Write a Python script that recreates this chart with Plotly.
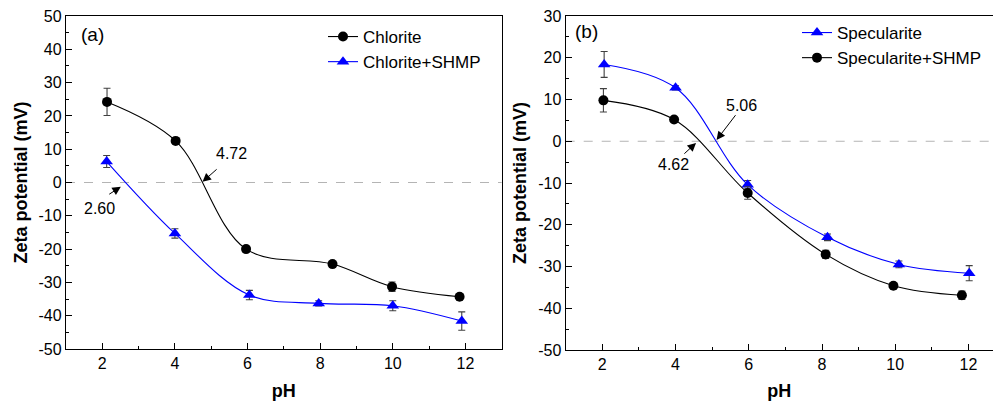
import plotly.graph_objects as go

# ---- data ----
chl_ph = [2.13, 4.02, 5.96, 8.34, 9.98, 11.84]
chl_zeta = [24.2, 12.5, -20.0, -24.5, -31.3, -34.3]
chl_err = [4.1, 0.6, 0.7, 0.6, 1.4, 0.8]

chls_ph = [2.12, 4.00, 6.05, 7.96, 10.00, 11.90]
chls_zeta = [6.3, -15.3, -33.8, -36.3, -37.0, -41.6]
chls_err = [1.8, 1.4, 1.4, 0.8, 1.5, 2.75]

spe_ph = [2.05, 4.00, 5.97, 8.15, 10.10, 12.02]
spe_zeta = [18.4, 12.8, -10.4, -23.0, -29.5, -31.6]
spe_err = [3.1, 0.5, 1.0, 0.8, 0.8, 1.8]

spes_ph = [2.03, 3.96, 5.97, 8.10, 9.95, 11.82]
spes_zeta = [9.8, 5.2, -12.4, -27.1, -34.6, -36.9]
spes_err = [2.8, 0.5, 1.5, 1.0, 0.5, 1.0]

ya_ticks = [-50, -40, -30, -20, -10, 0, 10, 20, 30, 40, 50]
yb_ticks = [-50, -40, -30, -20, -10, 0, 10, 20, 30]
ya_labels = [str(v) for v in ya_ticks]
yb_labels = [str(v) for v in yb_ticks]

iep_labels = ["4.72", "2.60", "5.06", "4.62"]

FONT = "Liberation Sans, Arial, sans-serif"
BLUE = "#0000ff"
ERRC = "#404040"

fig = go.Figure()

def add(x, y, e, name, color, symbol, xa, ya, legend):
    fig.add_trace(go.Scatter(
        x=x, y=y, name=name, mode="lines+markers",
        line=dict(color=color, width=1.1, shape="spline", smoothing=1.0),
        marker=dict(color=color, symbol=symbol, size=10 if symbol == "circle" else 11),
        error_y=dict(type="data", array=e, visible=True, color=ERRC, thickness=1.1, width=3.5),
        xaxis=xa, yaxis=ya, legend=legend,
    ))

add(chl_ph, chl_zeta, chl_err, "Chlorite", "black", "circle", "x", "y", "legend")
add(chls_ph, chls_zeta, chls_err, "Chlorite+SHMP", BLUE, "triangle-up", "x", "y", "legend")
add(spe_ph, spe_zeta, spe_err, "Specularite", BLUE, "triangle-up", "x2", "y2", "legend2")
add(spes_ph, spes_zeta, spes_err, "Specularite+SHMP", "black", "circle", "x2", "y2", "legend2")

axis_common = dict(
    showline=True, linecolor="black", linewidth=1.3,
    ticks="inside", ticklen=6, tickwidth=1.2, tickcolor="black",
    showgrid=False, zeroline=False, automargin=False,
    tickfont=dict(family=FONT, size=16, color="black"),
)

xcommon = dict(axis_common, range=[1, 13], dtick=2, tick0=2,
               minor=dict(dtick=1, ticks="inside", ticklen=3, tickwidth=1.2, tickcolor="black"),
               title=dict(text="<b>pH</b>", font=dict(family=FONT, size=18, color="black"), standoff=14))

ycommon = dict(axis_common, tickmode="array",
               minor=dict(dtick=5, tick0=0, ticks="inside", ticklen=3, tickwidth=1.2, tickcolor="black"),
               title=dict(text="<b>Zeta potential (mV)</b>", font=dict(family=FONT, size=18, color="black"), standoff=6))

fig.update_layout(
    width=993, height=401,
    margin=dict(l=0, r=0, t=0, b=0, autoexpand=False),
    paper_bgcolor="white", plot_bgcolor="white",
    showlegend=True,
    xaxis=dict(xcommon, domain=[66 / 993, 501.7 / 993], anchor="y", mirror=True),
    yaxis=dict(ycommon, domain=[52 / 401, 385 / 401], range=[-50, 50], anchor="x", mirror=True,
               tickvals=ya_ticks, ticktext=ya_labels),
    xaxis2=dict(xcommon, domain=[565.7 / 993, 1.0], anchor="y2", mirror=True, range=[1, 12.67]),
    yaxis2=dict(ycommon, domain=[51 / 401, 385 / 401], range=[-50, 30], anchor="x2", mirror=False,
                tickvals=yb_ticks, ticktext=yb_labels),
    legend=dict(x=323 / 993, y=1 - 19 / 401, xanchor="left", yanchor="top",
                bgcolor="rgba(0,0,0,0)", font=dict(family=FONT, size=17, color="black")),
    legend2=dict(x=797 / 993, y=1 - 15 / 401, xanchor="left", yanchor="top",
                 bgcolor="rgba(0,0,0,0)", font=dict(family=FONT, size=17, color="black")),
)

# zero reference lines
for xr, yr in (("x domain", "y"), ("x2 domain", "y2")):
    fig.add_shape(type="line", xref=xr, yref=yr, x0=0, x1=1, y0=0, y1=0,
                  line=dict(color="#b4b4b4", width=1, dash="dash"), layer="below")

# panel labels
fig.add_annotation(text="(a)", xref="x domain", yref="y domain", x=0.03, y=0.945,
                   xanchor="left", yanchor="middle", showarrow=False,
                   font=dict(family=FONT, size=19, color="black"))
fig.add_annotation(text="(b)", xref="x2 domain", yref="y2 domain", x=0.018, y=0.955,
                   xanchor="left", yanchor="middle", showarrow=False,
                   font=dict(family=FONT, size=19, color="black"))

# IEP labels and arrows
labels = [
    # text, text x, text y, head x, head y, tail x, tail y, axes
    (iep_labels[0], 5.57, 8.6, 4.76, 0.2, 5.19, 4.35, "x", "y"),
    (iep_labels[1], 1.92, -7.7, 2.51, -1.3, 2.15, -3.8, "x", "y"),
    (iep_labels[2], 5.81, 8.6, 5.12, 0.3, 5.67, 6.6, "x2", "y2"),
    (iep_labels[3], 3.94, -5.6, 4.56, -0.4, 4.20, -3.3, "x2", "y2"),
]
for t, tx, ty, hx, hy, sx, sy, xa, ya in labels:
    fig.add_annotation(text=t, x=tx, y=ty, xref=xa, yref=ya, showarrow=False,
                       font=dict(family=FONT, size=16, color="black"))
    fig.add_annotation(text="", x=hx, y=hy, ax=sx, ay=sy, xref=xa, yref=ya,
                       axref=xa, ayref=ya, showarrow=True, arrowhead=2,
                       arrowsize=1.7, arrowwidth=1, arrowcolor="black", standoff=0)

fig.write_html("out.html", config={"displayModeBar": False},
               post_script="document.body.style.margin='0';document.body.style.overflow='hidden';")
